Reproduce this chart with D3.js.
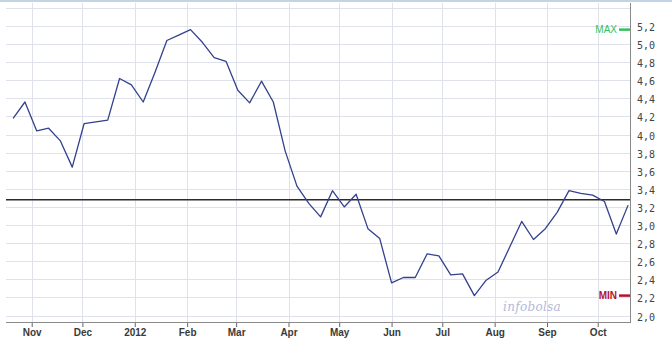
<!DOCTYPE html>
<html>
<head>
<meta charset="utf-8">
<script src="https://cdn.jsdelivr.net/npm/d3@7"></script>
<style>
  body { margin: 0; background: #fff; }
  #canvas { width: 672px; height: 345px; }
</style>
</head>
<body>
<div id="canvas"></div>
<script>
const W = 672, H = 345;
const plot = { left: 6, right: 630, top: 3, bottom: 322 };

// weekly closes, first one on 21 Oct 2011
const firstDate = new Date(2011, 9, 21);
const prices = [
  4.18, 4.36, 4.04, 4.07, 3.93, 3.64, 4.12, 4.14, 4.16, 4.62,
  4.55, 4.36, 4.69, 5.04, 5.10, 5.16, 5.02, 4.85, 4.81, 4.49,
  4.35, 4.59, 4.36, 3.82, 3.43, 3.24, 3.09, 3.38, 3.20, 3.34,
  2.96, 2.85, 2.36, 2.42, 2.42, 2.68, 2.66, 2.45, 2.46, 2.22,
  2.39, 2.48, 2.76, 3.04, 2.84, 2.96, 3.14, 3.38, 3.35, 3.33,
  3.26, 2.90, 3.22
];
const refLevel = 3.28;
const monthTicks = ["2011-11-01","2011-12-01","2012-01-01","2012-02-01","2012-03-01","2012-04-01",
                    "2012-05-01","2012-06-01","2012-07-01","2012-08-01","2012-09-01","2012-10-01"];
const monthLabels = ["Nov","Dec","2012","Feb","Mar","Apr","May","Jun","Jul","Aug","Sep","Oct"];
const yTicks = [2.0, 2.2, 2.4, 2.6, 2.8, 3.0, 3.2, 3.4, 3.6, 3.8, 4.0, 4.2, 4.4, 4.6, 4.8, 5.0, 5.2];
const yGrid = yTicks.concat([5.4]);

const data = prices.map((v, i) => ({ date: d3.timeDay.offset(firstDate, 7 * i), value: v }));
const tickDates = monthTicks.map(d => d3.timeParse("%Y-%m-%d")(d));

const svg = d3.select("#canvas")
  .append("svg")
    .attr("width", W)
    .attr("height", H)
    .style("font-family", "'Liberation Sans', Arial, sans-serif");

const xScale = d3.scaleTime()
  .domain([tickDates[0], tickDates[tickDates.length - 1]])
  .range([31.7, 597.7]);

const yScale = d3.scaleLinear()
  .domain([2.0, 5.2])
  .range([315.5, 26]);

// top frame line
svg.append("rect")
  .attr("x", 0).attr("y", 0)
  .attr("width", W).attr("height", 2)
  .style("fill", "#c3d3e3");

// horizontal grid
svg.append("g")
  .selectAll("line")
  .data(yGrid)
  .enter().append("line")
    .attr("x1", plot.left)
    .attr("x2", plot.right)
    .attr("y1", d => Math.round(yScale(d)) + 0.5)
    .attr("y2", d => Math.round(yScale(d)) + 0.5)
    .style("stroke", "#dfe2ea")
    .style("stroke-width", 1);

// vertical grid
svg.append("g")
  .selectAll("line")
  .data(tickDates)
  .enter().append("line")
    .attr("x1", d => Math.round(xScale(d)) + 0.5)
    .attr("x2", d => Math.round(xScale(d)) + 0.5)
    .attr("y1", plot.top)
    .attr("y2", plot.bottom)
    .style("stroke", "#dfe2ea")
    .style("stroke-width", 1);

// watermark
svg.append("text")
  .attr("x", 532)
  .attr("y", 311)
  .attr("text-anchor", "middle")
  .style("font-family", "'DejaVu Serif', serif")
  .style("font-style", "italic")
  .style("font-size", "12px")
  .style("letter-spacing", "0.3px")
  .style("fill", "#b3bad8")
  .text("infobolsa");

// bottom axis
const xAxis = d3.axisBottom(xScale)
  .tickValues(tickDates)
  .tickSize(5)
  .tickFormat((d, i) => monthLabels[i]);

const gx = svg.append("g")
  .attr("transform", `translate(0, ${plot.bottom})`)
  .call(xAxis);
gx.select(".domain").remove();
gx.selectAll("line").style("stroke", "#666");
gx.selectAll("text")
  .attr("y", 7)
  .style("font-size", "10px")
  .style("font-weight", "bold")
  .style("fill", "#3a3a3a");

svg.append("line")
  .attr("x1", plot.left).attr("x2", plot.right + 1)
  .attr("y1", plot.bottom + 0.5).attr("y2", plot.bottom + 0.5)
  .style("stroke", "#8a8a8a");

// right axis
const yAxis = d3.axisRight(yScale)
  .tickValues(yTicks)
  .tickSize(0)
  .tickPadding(7)
  .tickFormat(d => d3.format(".1f")(d).replace(".", ","));

const gy = svg.append("g")
  .attr("transform", `translate(${plot.right}, 0)`)
  .call(yAxis);
gy.select(".domain").remove();
gy.selectAll("text")
  .attr("dy", "0.45em")
  .style("font-family", "'DejaVu Sans Mono', monospace")
  .style("font-size", "10px")
  .style("fill", "#444");

svg.append("line")
  .attr("x1", plot.right + 0.5).attr("x2", plot.right + 0.5)
  .attr("y1", plot.top).attr("y2", plot.bottom)
  .style("stroke", "#8a8a8a");

// reference level
svg.append("line")
  .attr("x1", plot.left).attr("x2", plot.right)
  .attr("y1", yScale(refLevel)).attr("y2", yScale(refLevel))
  .style("stroke", "#2b2b2b")
  .style("stroke-width", 1.5);

// price line
const line = d3.line()
  .x(d => xScale(d.date))
  .y(d => yScale(d.value));

svg.append("path")
  .datum(data)
  .attr("d", line)
  .style("fill", "none")
  .style("stroke", "#34418c")
  .style("stroke-width", 1.3)
  .style("stroke-linejoin", "round");

// max / min markers
const maxV = d3.max(prices), minV = d3.min(prices);
const markers = [
  { label: "MAX", value: maxV, color: "#36c05a", weight: "normal" },
  { label: "MIN", value: minV, color: "#b5122e", weight: "bold" }
];
markers.forEach(m => {
  svg.append("line")
    .attr("x1", plot.right - 11).attr("x2", plot.right)
    .attr("y1", yScale(m.value)).attr("y2", yScale(m.value))
    .style("stroke", m.color)
    .style("stroke-width", 2.5);
  svg.append("text")
    .attr("x", plot.right - 13)
    .attr("y", yScale(m.value))
    .attr("dy", "0.35em")
    .attr("text-anchor", "end")
    .style("font-size", "10px")
    .style("font-weight", m.weight)
    .style("fill", m.color)
    .text(m.label);
});
</script>
</body>
</html>
